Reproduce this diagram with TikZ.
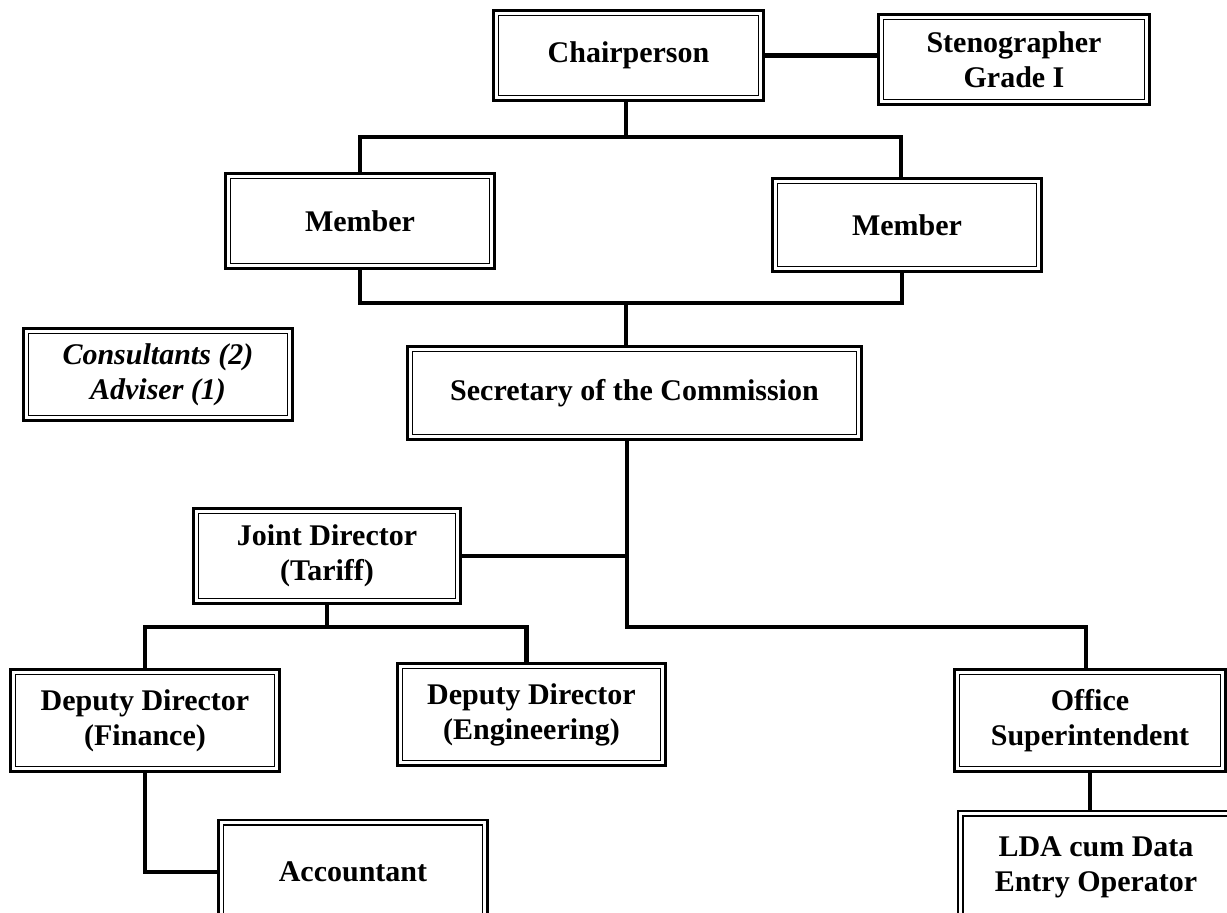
\documentclass[tikz,border=0pt]{standalone}
\usepackage{fontspec}
\setmainfont{Liberation Serif}
\begin{document}
\begin{tikzpicture}[x=1pt,y=-1pt,
    cargo/.style={draw,line width=2.8pt,fill=white,outer sep=0pt,inner sep=0pt,align=center,
      font=\fontsize{30}{35}\selectfont\bfseries},
    linea/.style={line width=4.5pt}]
  \useasboundingbox (0,0) rectangle (1227,913);

  % Cargos
  \node[cargo,minimum width=270pt,minimum height=90pt] (chair) at (628.5,55.5) {Chairperson};
  \node[cargo,minimum width=271pt,minimum height=90pt] (steno) at (1014,59.5) {Stenographer\\Grade I};
  \node[cargo,minimum width=269pt,minimum height=95pt] (memL) at (360,221) {Member};
  \node[cargo,minimum width=269pt,minimum height=93pt] (memR) at (907,225) {Member};
  \node[cargo,minimum width=269pt,minimum height=92pt,font=\fontsize{30}{35}\selectfont\bfseries\itshape] (consult) at (158,374.5) {Consultants (2)\\Adviser (1)};
  \node[cargo,minimum width=454pt,minimum height=93pt] (secy) at (634.5,393) {Secretary of the Commission};
  \node[cargo,minimum width=267pt,minimum height=95pt] (joint) at (327,556) {Joint Director\\(Tariff)};
  \node[cargo,minimum width=269pt,minimum height=102pt] (ddfin) at (145,720.5) {Deputy Director\\(Finance)};
  \node[cargo,minimum width=268pt,minimum height=102pt] (ddeng) at (531.5,714.5) {Deputy Director\\(Engineering)};
  \node[cargo,minimum width=271pt,minimum height=102pt] (office) at (1090,720.5) {Office\\Superintendent};
  \node[cargo,minimum width=269pt,minimum height=104pt] (acct) at (353,872) {Accountant};
  \node[cargo,minimum width=276pt,minimum height=112pt] (lda) at (1096,867) {LDA cum Data\\Entry Operator};

  % Marco interior
  \foreach \n in {chair,steno,memL,memR,consult,secy,joint,ddfin,ddeng,office,acct,lda}
    \draw[line width=1.3pt] ([shift={(5pt,-5pt)}]\n.north west) rectangle ([shift={(-5pt,5pt)}]\n.south east);

  % Lineas
  \coordinate (barra1) at (626,137);
  \coordinate (barra2) at (626,303);
  \coordinate (eje) at (627,627);
  \coordinate (barra3) at (327,627);

  \draw[linea] (chair.east) -- (chair.east -| steno.west);
  \draw[linea] (barra1 |- chair.south) -- (barra1);
  \draw[linea] (memL.north) |- (barra1) -| ([xshift=-6pt]memR.north);
  \draw[linea] (memL.south) |- (barra2) -| ([xshift=-5pt]memR.south);
  \draw[linea] (barra2) -- (barra2 |- secy.north);
  \draw[linea] (eje |- secy.south) -- (eje) -| ([xshift=-4pt]office.north);
  \draw[linea] (joint.east) -- (joint.east -| eje);
  \draw[linea] (joint.south) -- (barra3);
  \draw[linea] (ddfin.north) |- (barra3) -| ([xshift=-5pt]ddeng.north);
  \draw[linea] (ddfin.south) |- (acct.west);
  \draw[linea] (office.south) -- (office.south |- lda.north);
\end{tikzpicture}
\end{document}
